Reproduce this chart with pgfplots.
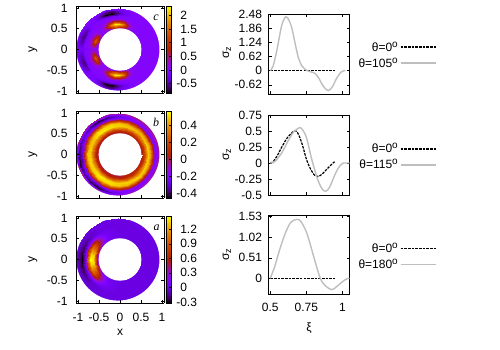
\documentclass[border=0pt]{standalone}
\usepackage{fontspec}
\setmainfont{Liberation Sans}
\newfontfamily\serifit[ItalicFont={Liberation Serif Italic}]{Liberation Serif}
\usepackage{pgfplots}
\usepackage{pgfplotstable}
\pgfplotsset{compat=1.18}
\newcommand{\fs}{\fontsize{12}{13}\selectfont}
\newcommand{\rr}{(0.5+0.0625*mod(\coordindex,9))}
\newcommand{\tc}{(10*floor(\coordindex/9))}
\newcommand{\tb}{(15*floor(\coordindex/9))}
\newcommand{\shft}{(0.1*0.0625*mod(\coordindex,9))}
\newcommand{\dg}{\raisebox{4pt}{\fontsize{10}{10}\selectfont o}}
\newcommand{\sgz}{σ\raisebox{-2pt}{\fontsize{9}{9}\selectfont z}}
\newcommand{\ringmask}{%
  \fill[white,even odd rule] (axis cs:-1.048,-1.048,0) rectangle (axis cs:1.048,1.048,0)
     (axis cs:-.05,0,0) ellipse[x radius=41.6pt,y radius=41.1pt];
  \fill[white] (axis cs:0,0,0) ellipse[x radius=21.4pt,y radius=21.2pt];
}

% sigma values on the ring: each line one angle, inner to outer radius
\pgfplotstableread[row sep=\\,header=false]{
0\\0\\0\\0\\0\\0\\0\\0\\0\\
0\\0\\0\\0\\0\\0\\0\\0\\0\\
0\\0\\0\\0\\0\\0\\0\\0\\0\\
0\\0\\0\\0\\0\\0\\0\\0\\0\\
0\\0\\0\\0\\0\\0\\0\\0\\0\\
0\\0\\0\\0\\0\\0\\0\\0\\0\\
0\\.04\\.07\\.02\\0\\0\\0\\0\\0\\
0\\.32\\.55\\.19\\.01\\-.01\\-.05\\-.03\\0\\
0\\.87\\1.5\\.52\\.03\\-.02\\-.2\\-.14\\0\\
0\\1.28\\2.2\\.77\\.04\\-.07\\-.55\\-.38\\0\\
0\\1.33\\2.3\\.8\\.05\\-.1\\-.85\\-.6\\0\\
0\\.99\\1.7\\.6\\.03\\-.1\\-.85\\-.6\\0\\
0\\.41\\.7\\.25\\.01\\-.05\\-.4\\-.28\\0\\
0\\.07\\.12\\.04\\0\\-.01\\-.1\\-.07\\0\\
0\\.12\\.2\\.07\\0\\-.01\\-.1\\-.07\\0\\
0\\.52\\.9\\.32\\.02\\-.05\\-.45\\-.32\\0\\
0\\.84\\1.45\\.51\\.03\\-.07\\-.6\\-.42\\0\\
0\\.44\\.75\\.26\\.02\\-.05\\-.45\\-.32\\0\\
0\\.05\\.08\\.03\\0\\-.02\\-.15\\-.1\\0\\
}\dataC

\pgfplotstableread[row sep=\\,header=false]{
0\\.13\\.33\\.5\\.42\\.1\\-.2\\-.12\\0\\
0\\.13\\.33\\.5\\.42\\.1\\-.2\\-.12\\0\\
0\\.12\\.32\\.48\\.4\\.1\\-.2\\-.12\\0\\
0\\.12\\.31\\.47\\.4\\.1\\-.2\\-.12\\0\\
0\\.12\\.32\\.48\\.4\\.11\\-.2\\-.14\\0\\
0\\.09\\.31\\.49\\.44\\.16\\-.2\\-.2\\-.01\\
0\\.06\\.3\\.5\\.48\\.22\\-.19\\-.3\\-.015\\
0\\.06\\.32\\.52\\.5\\.24\\-.24\\-.38\\-.02\\
0\\.06\\.33\\.54\\.51\\.25\\-.29\\-.45\\-.02\\
0\\.06\\.33\\.54\\.51\\.25\\-.24\\-.38\\-.02\\
0\\.06\\.3\\.49\\.46\\.23\\-.19\\-.3\\-.02\\
0\\.06\\.3\\.49\\.46\\.23\\-.23\\-.36\\-.02\\
0\\.06\\.31\\.5\\.48\\.23\\-.27\\-.42\\-.02\\
0\\.06\\.32\\.51\\.49\\.23\\-.28\\-.44\\-.02\\
0\\.06\\.32\\.51\\.49\\.23\\-.22\\-.35\\-.02\\
0\\.06\\.33\\.54\\.51\\.25\\-.27\\-.42\\-.02\\
0\\.06\\.33\\.54\\.51\\.25\\-.29\\-.45\\-.02\\
0\\.06\\.32\\.52\\.5\\.24\\-.21\\-.33\\-.02\\
0\\.06\\.3\\.5\\.48\\.22\\-.17\\-.27\\-.015\\
0\\.09\\.32\\.51\\.46\\.16\\-.2\\-.2\\-.01\\
0\\.13\\.34\\.52\\.44\\.1\\-.22\\-.13\\0\\
0\\.13\\.33\\.5\\.42\\.1\\-.2\\-.12\\0\\
0\\.13\\.33\\.5\\.42\\.1\\-.2\\-.12\\0\\
0\\.13\\.33\\.5\\.42\\.1\\-.2\\-.12\\0\\
0\\.13\\.33\\.5\\.42\\.1\\-.2\\-.12\\0\\
}\dataB

\pgfplotstableread[row sep=\\,header=false]{
0\\0\\0\\0\\0\\0\\0\\0\\0\\
0\\0\\0\\0\\0\\0\\0\\0\\0\\
0\\0\\0\\0\\0\\0\\0\\0\\0\\
0\\0\\0\\0\\0\\0\\0\\0\\0\\
0\\0\\0\\0\\0\\0\\0\\0\\0\\
0\\0\\0\\0\\0\\0\\0\\0\\0\\
0\\0\\0\\0\\0\\0\\0\\0\\0\\
0\\0\\0\\0\\0\\0\\0\\0\\0\\
0\\0\\0\\0\\0\\0\\0\\0\\0\\
0\\0\\0\\0\\0\\0\\0\\0\\0\\
0\\.01\\.02\\.02\\.01\\0\\0\\0\\0\\
0\\.02\\.03\\.03\\.02\\0\\0\\0\\0\\
0\\.05\\.08\\.09\\.05\\0\\-.01\\0\\0\\
0\\.16\\.28\\.28\\.16\\0\\-.03\\-.02\\0\\
0\\.3\\.55\\.57\\.33\\.01\\-.07\\-.04\\0\\
0\\.48\\.85\\.9\\.55\\.02\\-.14\\-.07\\0\\
0\\.63\\1.1\\1.15\\.72\\.02\\-.2\\-.1\\0\\
0\\.76\\1.33\\1.38\\.83\\.02\\-.27\\-.13\\0\\
0\\.8\\1.42\\1.47\\.87\\.02\\-.31\\-.14\\0\\
}\dataA

\pgfplotsset{
  colormap={gp}{rgb(0pt)=(0,0,0); rgb(5pt)=(.224,0,.309); rgb(10pt)=(.316,.001,.588); rgb(15pt)=(.387,.003,.809); rgb(20pt)=(.447,.008,.951); rgb(25pt)=(.5,.016,1); rgb(30pt)=(.548,.027,.951); rgb(35pt)=(.592,.043,.809); rgb(40pt)=(.632,.064,.588); rgb(45pt)=(.671,.091,.309); rgb(50pt)=(.707,.125,0); rgb(60pt)=(.775,.216,0); rgb(70pt)=(.837,.343,0); rgb(80pt)=(.894,.512,0); rgb(90pt)=(.949,.729,0); rgb(100pt)=(1,1,0)},
  lf/.style={
    scale only axis, width=88pt, height=87pt,
    xmin=-1.048, xmax=1.048, ymin=-1.048, ymax=1.048,
    view={0}{90}, axis on top,
    xtick={-1,-0.5,0,0.5,1}, ytick={-1,-0.5,0,0.5,1},
    yticklabels={-1,-0.5,0,0.5,1},
    tick align=inside, major tick length=3pt,
    tick style={black,line width=.5pt}, axis line style={line width=.6pt},
    tick label style={font=\fs},
    xticklabel style={yshift=-7pt}, yticklabel style={xshift=-5pt},
    xtick pos=both, ytick pos=both,
    colorbar,
  },
  rt/.style={
    scale only axis, width=81pt, height=80pt,
    xmin=0.488, xmax=1.048,
    xtick={0.5,0.75,1}, tick align=inside, major tick length=3pt,
    tick style={black,line width=.5pt}, axis line style={line width=.6pt},
    tick label style={font=\fs},
    xticklabel style={yshift=-6pt}, yticklabel style={xshift=-3pt},
    xtick pos=both, ytick pos=both,
    legend plot pos=right, legend cell align=right,
    legend style={draw=none,fill=none,inner sep=0pt,row sep=1pt,font=\fs,
      /tikz/every even column/.style={column sep=8pt}},
    legend image code/.code={\draw[##1,line width=1.5pt] (0pt,0pt)--(35.5pt,0pt);},
  },
  dsh/.style={black,line width=1.5pt,dash pattern=on 2.6pt off 1.1pt},
  gry/.style={color={rgb,255:red,190;green,190;blue,190},line width=1.4pt,smooth},
  cb/.style 2 args={colorbar style={at={(1.02,0)},anchor=south west,width=5pt,height=87pt,
   ytick={#1},yticklabels={#2},tick align=inside,major tick length=1.5pt,
   tick style={black,line width=.4pt},axis line style={line width=.3pt},
   ytick pos=both, yticklabel pos=right,
   yticklabel style={font=\fs,anchor=west,xshift=6pt}}},
}
\begin{document}
\begin{tikzpicture}
\path (0pt,0pt) rectangle (500pt,350pt);
% left c
\begin{axis}[lf,at={(76pt,257pt)},xticklabels={},point meta min=-.84,point meta max=2.34,
  cb={-.5,0,.5,1,1.5,2}{\llap{-}0.5,0,0.5,1,1.5,2}]
\addplot3[surf,shader=interp,mesh/rows=19,mesh/cols=9,point meta=z] table[x index=0,y index=0,z index=0,x expr={\rr*cos(\tc)-\shft},y expr={\rr*sin(\tc)},z expr={\thisrowno{0}}]{\dataC};
\addplot3[surf,shader=interp,mesh/rows=19,mesh/cols=9,point meta=z] table[x index=0,y index=0,z index=0,x expr={\rr*cos(\tc)-\shft},y expr={-\rr*sin(\tc)},z expr={\thisrowno{0}}]{\dataC};
\ringmask
\end{axis}
% left b
\begin{axis}[lf,at={(76pt,152pt)},xticklabels={},point meta min=-.46,point meta max=.57,
  cb={-.4,-.2,0,.2,.4}{\llap{-}0.4,\llap{-}0.2,0,0.2,0.4}]
\addplot3[surf,shader=interp,mesh/rows=25,mesh/cols=9,point meta=z] table[x index=0,y index=0,z index=0,x expr={\rr*cos(\tb)-\shft},y expr={\rr*sin(\tb)},z expr={\thisrowno{0}}]{\dataB};
\ringmask
\end{axis}
% left a
\begin{axis}[lf,at={(76pt,47pt)},xticklabels={-1,-0.5,0,0.5,1},point meta min=-.32,point meta max=1.47,
  cb={-.3,0,.3,.6,.9,1.2}{\llap{-}0.3,0,0.3,0.6,0.9,1.2}]
\addplot3[surf,shader=interp,mesh/rows=19,mesh/cols=9,point meta=z] table[x index=0,y index=0,z index=0,x expr={\rr*cos(\tc)-\shft},y expr={\rr*sin(\tc)},z expr={\thisrowno{0}}]{\dataA};
\addplot3[surf,shader=interp,mesh/rows=19,mesh/cols=9,point meta=z] table[x index=0,y index=0,z index=0,x expr={\rr*cos(\tc)-\shft},y expr={-\rr*sin(\tc)},z expr={\thisrowno{0}}]{\dataA};
\ringmask
\end{axis}
% right top
\begin{axis}[rt,at={(268.5pt,256pt)},xticklabels={},ymin=-1.02,ymax=2.48,
  ytick={-.62,0,.62,1.24,1.86,2.48},yticklabels={-0.62,0,0.62,1.24,1.86,2.48},
  legend style={at={(2.08,.68)},anchor=north east}]
\addplot[dsh] coordinates {(.5,0)(.95,0)};
\addlegendentry{θ=0\dg}
\addplot[gry] coordinates {(.5,0)(.52,.2)(.546,.9)(.58,2.0)(.608,2.36)(.63,2.2)(.65,1.85)(.675,1.1)(.696,.54)(.72,.2)(.75,.02)(.78,-.05)(.81,-.12)(.835,-.32)(.857,-.58)(.88,-.78)(.903,-.87)(.93,-.7)(.96,-.32)(.99,-.06)(1.01,0)(1.02,0)};
\addlegendentry{θ=105\dg}
\end{axis}
% right mid
\begin{axis}[rt,at={(268.5pt,155pt)},xticklabels={},ymin=-.5,ymax=.75,
  ytick={-.5,-.25,0,.25,.5,.75},yticklabels={-0.5,-0.25,0,0.25,0.5,0.75},
  legend style={at={(2.08,.67)},anchor=north east}]
\addplot[dsh,line width=1.2pt,smooth] coordinates {(.5,0)(.52,.02)(.55,.12)(.58,.25)(.62,.4)(.666,.5)(.69,.47)(.72,.3)(.75,.06)(.78,-.1)(.81,-.2)(.834,-.21)(.86,-.17)(.89,-.1)(.92,-.03)(.945,.02)};
\addlegendentry{θ=0\dg}
\addplot[gry] coordinates {(.5,0)(.52,.005)(.54,.04)(.58,.16)(.62,.33)(.66,.48)(.70,.55)(.72,.53)(.75,.4)(.78,.12)(.80,-.05)(.83,-.27)(.86,-.41)(.885,-.44)(.91,-.38)(.94,-.22)(.97,-.08)(1.0,-.005)(1.01,0)(1.048,0)};
\addlegendentry{θ=115\dg}
\end{axis}
% right bottom
\begin{axis}[rt,at={(268.5pt,56pt)},height=79pt,xticklabels={0.5,0.75,1},ymin=-.387,ymax=1.57,
  ytick={0,.51,1.02,1.53},yticklabels={0,0.51,1.02,1.53},
  legend style={at={(2.08,.67)},anchor=north east}]
\addplot[dsh] coordinates {(.5,0)(.945,0)};
\addlegendentry{θ=0\dg}
\addplot[gry] coordinates {(.5,0)(.53,.28)(.56,.65)(.6,1.08)(.64,1.38)(.68,1.46)(.71,1.42)(.75,1.15)(.78,.8)(.81,.42)(.846,0)(.88,-.18)(.926,-.28)(.96,-.2)(1.0,-.08)(1.03,-.01)(1.048,0)};
\addlegendentry{θ=180\dg}
\end{axis}
% labels
\foreach \y in {300,195,90} {\node[font=\fs,rotate=90] at (33pt,\y pt) {y};}
\node[font=\fs] at (120pt,18pt) {x};
\node[font=\fs] at (309pt,22pt) {ξ};
\foreach \y in {297,195,95} {\node[font=\fs,rotate=90] at (227pt,\y pt) {\sgz};}
\node[font=\fs\serifit\itshape] at (156pt,332pt) {c};
\node[font=\fs\serifit\itshape] at (156pt,228pt) {b};
\node[font=\fs\serifit\itshape] at (156.5pt,122pt) {a};
\end{tikzpicture}
\end{document}
